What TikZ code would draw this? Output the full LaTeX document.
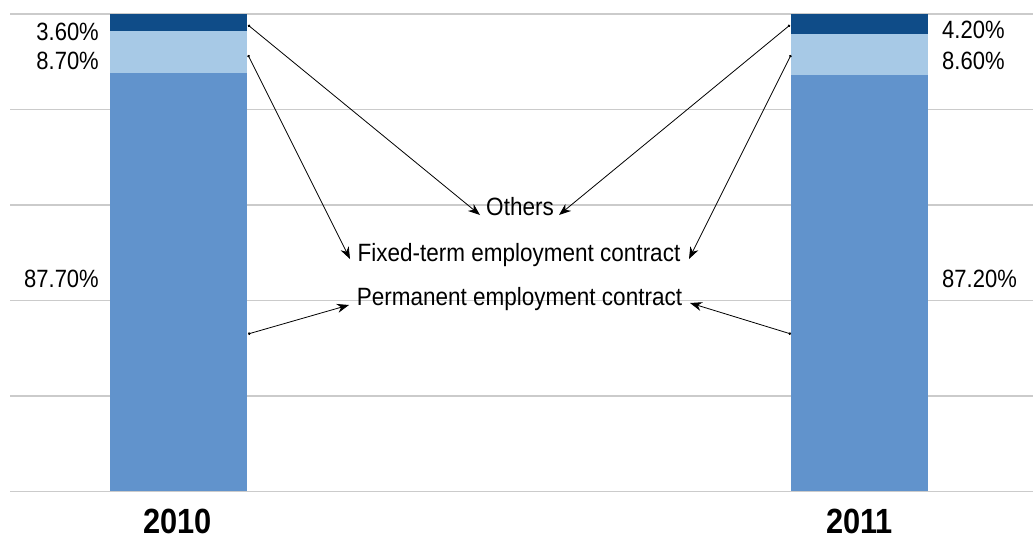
\documentclass[tikz,border=0pt]{standalone}
\usepackage{fontspec}
\setmainfont{Liberation Sans}[FakeStretch=0.88]
\newfontfamily\catfont{Liberation Sans}[FakeStretch=0.9]
\newfontfamily\yearfont{Liberation Sans}[FakeStretch=0.88]
\usetikzlibrary{arrows.meta}
\definecolor{gridgray}{HTML}{CBCBCB}
\definecolor{segdark}{HTML}{0F4C88}
\definecolor{seglight}{HTML}{A7C9E6}
\definecolor{segmid}{HTML}{6193CC}
\tikzset{
  gridline/.style={draw=gridgray,line width=1.3pt},
  pct/.style={font=\fontsize{25}{29}\selectfont,inner sep=0pt},
  cat/.style={font=\catfont\fontsize{25}{29}\selectfont,inner sep=0pt,anchor=base},
  yr/.style={font=\yearfont\bfseries\fontsize{35}{39}\selectfont,inner sep=0pt,anchor=base},
  conn/.style={line width=0.8pt,{Circle[length=2.6pt]}-{Stealth[length=12pt,width=9pt]}},
}
\begin{document}
\begin{tikzpicture}[x=1pt,y=-1pt]
\useasboundingbox (0,0) rectangle (1033,541);
% grid
\foreach \gy in {14,109.5,205,300.5,396,491.5}
  \draw[gridline] (10,\gy) -- (1033,\gy);
% bars 2010
\fill[segmid] (110,72.67) rectangle (247,491);
\fill[seglight] (110,31.17) rectangle (247,72.67);
\fill[segdark] (110,14) rectangle (247,31.17);
% bars 2011
\fill[segmid] (791,75.06) rectangle (928,491);
\fill[seglight] (791,34.03) rectangle (928,75.06);
\fill[segdark] (791,14) rectangle (928,34.03);
% percentages
\node[pct,anchor=base east] (p10o) at (99,40) {3.60\%};
\node[pct,anchor=base east] (p10f) at (99,69) {8.70\%};
\node[pct,anchor=base east] (p10p) at (99,287) {87.70\%};
\node[pct,anchor=base west] (p11o) at (942,38.5) {4.20\%};
\node[pct,anchor=base west] (p11f) at (942,69) {8.60\%};
\node[pct,anchor=base west] (p11p) at (942,287) {87.20\%};
% years
\node[yr] (y10) at (177.5,533) {2010};
\node[yr] (y11) at (859.5,533) {2011};
% category labels
\node[cat] (others) at (520,215) {Others};
\node[cat] (fixed) at (519,261) {Fixed-term employment contract};
\node[cat] (perm) at (519.5,305) {Permanent employment contract};
% arrow ends
\coordinate (t10o) at (248,25);
\coordinate (t10f) at (248,55);
\coordinate (t10p) at (248,334);
\coordinate (t11o) at (790,25);
\coordinate (t11f) at (791,55);
\coordinate (t11p) at (791,334);
\coordinate (h10o) at (480,215);
\coordinate (h10f) at (350,259);
\coordinate (h10p) at (349,305);
\coordinate (h11o) at (559,215);
\coordinate (h11f) at (689,259);
\coordinate (h11p) at (690,303);
\draw[conn] (t10o) -- (h10o);
\draw[conn] (t10f) -- (h10f);
\draw[conn] (t10p) -- (h10p);
\draw[conn] (t11o) -- (h11o);
\draw[conn] (t11f) -- (h11f);
\draw[conn] (t11p) -- (h11p);
\end{tikzpicture}
\end{document}
